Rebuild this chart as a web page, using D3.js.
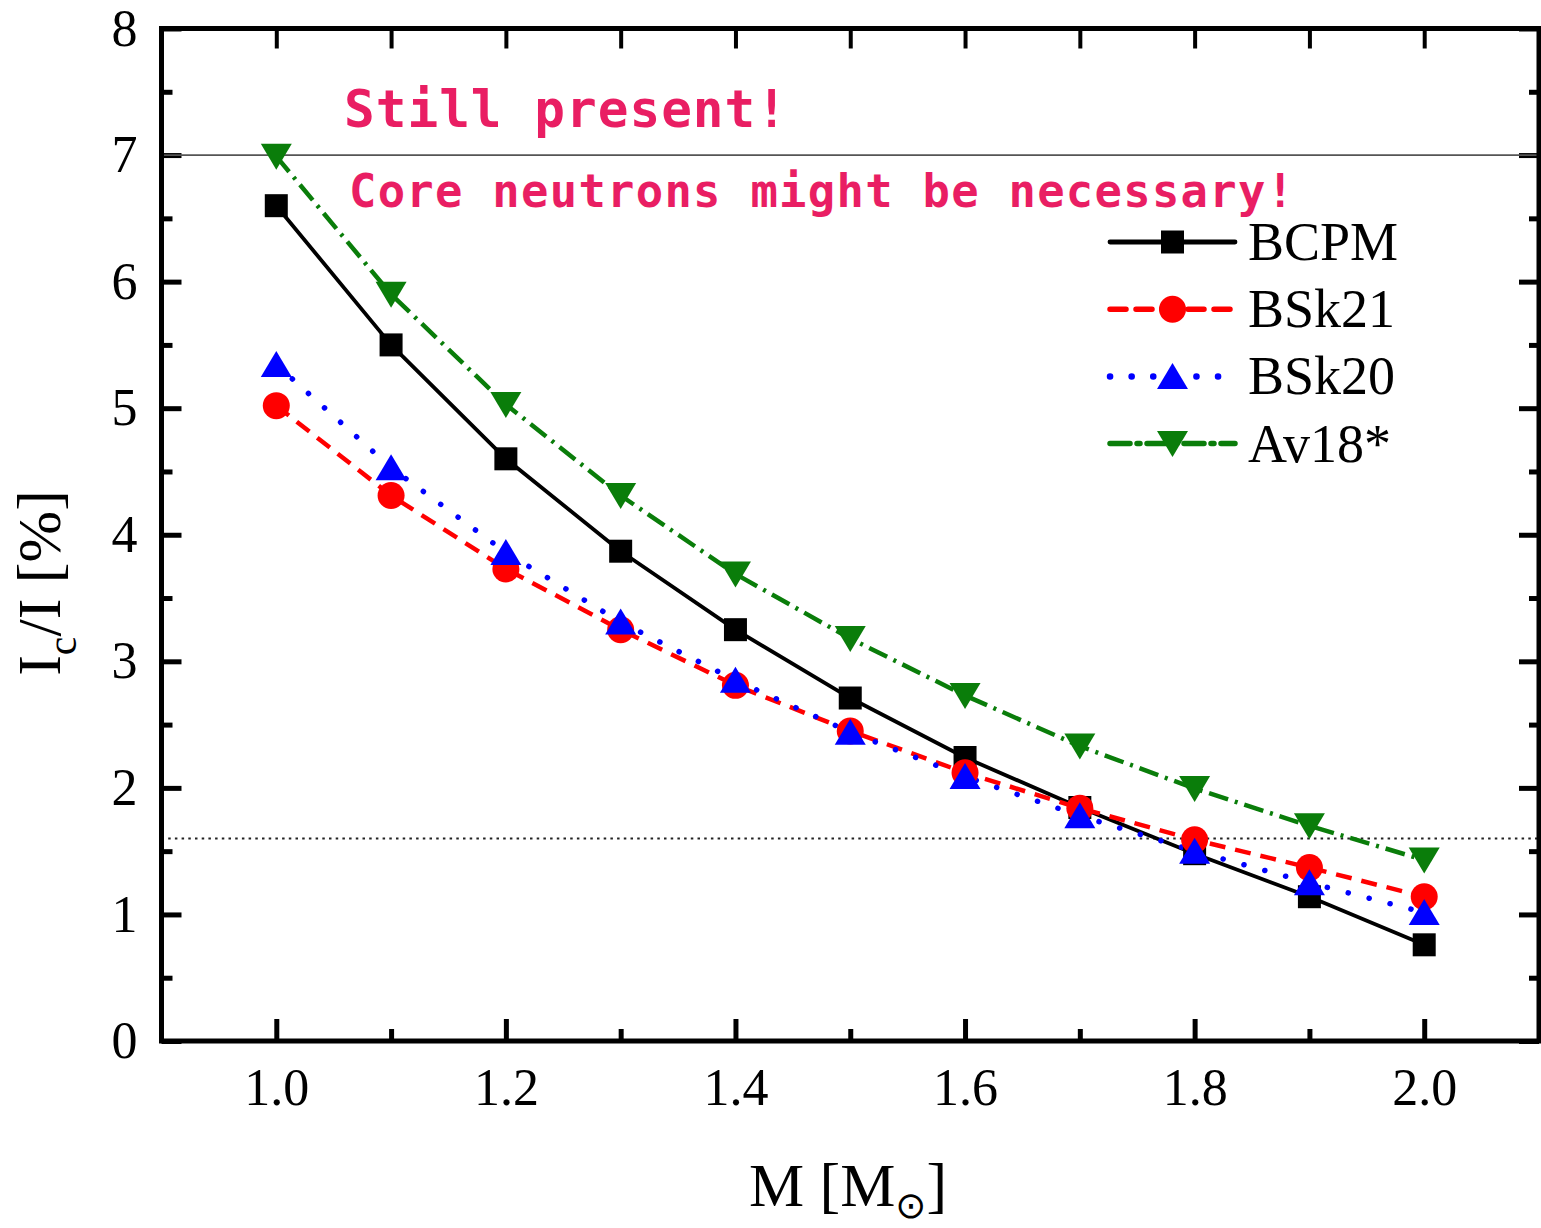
<!DOCTYPE html>
<html>
<head>
<meta charset="utf-8">
<script src="https://cdn.jsdelivr.net/npm/d3@7"></script>
<style>
  html, body { margin: 0; padding: 0; background: #fff; }
  svg { display: block; }
</style>
</head>
<body>
<div id="chart"></div>
<script>
// Crust moment-of-inertia fraction vs. neutron-star mass, four equations of state
const masses = [1.0, 1.1, 1.2, 1.3, 1.4, 1.5, 1.6, 1.7, 1.8, 1.9, 2.0];
const bcpm  = [6.60, 5.50, 4.60, 3.87, 3.25, 2.71, 2.24, 1.845, 1.48, 1.14, 0.76];
const bsk21 = [5.02, 4.31, 3.73, 3.25, 2.81, 2.45, 2.12, 1.84, 1.59, 1.37, 1.14];
const bsk20 = [5.345, 4.53, 3.86, 3.31, 2.85, 2.44, 2.09, 1.78, 1.50, 1.25, 1.015];
const av18  = [6.99, 5.90, 5.03, 4.31, 3.69, 3.18, 2.73, 2.33, 1.995, 1.70, 1.43];
const seriesNames = ["BCPM", "BSk21", "BSk20", "Av18*"];

const xMajorTicks = [1.0, 1.2, 1.4, 1.6, 1.8, 2.0];
const xMinorTicks = [1.1, 1.3, 1.5, 1.7, 1.9];
const yMajorTicks = [0, 1, 2, 3, 4, 5, 6, 7, 8];
const yMinorTicks = [0.5, 1.5, 2.5, 3.5, 4.5, 5.5, 6.5, 7.5];

const glitchLevel = 7;     // solid reference line
const crustLevel = 1.6;    // dotted reference line
const notes = ["Still present!", "Core neutrons might be necessary!"];

const W = 1541, H = 1228;
const svg = d3.select("#chart").append("svg")
  .attr("width", W).attr("height", H)
  .attr("viewBox", `0 0 ${W} ${H}`);
svg.append("rect").attr("width", W).attr("height", H).attr("fill", "#fff");

const x = d3.scaleLinear().domain([0.9, 2.1]).range([161.5, 1539]);
const y = d3.scaleLinear().domain([0, 8]).range([1041, 28.5]);

const serif = "'Liberation Serif', 'Times New Roman', serif";

// ---- axes (ticks point inward on all four sides) ----
function styleAxis(g, width) {
  g.select(".domain").remove();
  g.selectAll(".tick line").attr("stroke", "#000").attr("stroke-width", width);
}
const x0 = y.range()[0], yTop = y.range()[1];
const xl = x.range()[0], xr = x.range()[1];

svg.append("g").attr("transform", `translate(0,${x0})`)
  .call(d3.axisBottom(x).tickValues(xMajorTicks).tickSize(-22).tickPadding(27).tickFormat(d3.format(".1f")))
  .call(g => styleAxis(g, 5))
  .call(g => g.selectAll("text").attr("font-family", serif).attr("font-size", 52).attr("fill", "#000"));
svg.append("g").attr("transform", `translate(0,${x0})`)
  .call(d3.axisBottom(x).tickValues(xMinorTicks).tickSize(-12).tickFormat(""))
  .call(g => styleAxis(g, 5));
svg.append("g").attr("transform", `translate(0,${yTop})`)
  .call(d3.axisTop(x).tickValues(xMajorTicks).tickSize(-20).tickFormat(""))
  .call(g => styleAxis(g, 4));
svg.append("g").attr("transform", `translate(0,${yTop})`)
  .call(d3.axisTop(x).tickValues(xMinorTicks).tickSize(-20).tickFormat(""))
  .call(g => styleAxis(g, 4));

svg.append("g").attr("transform", `translate(${xl},0)`)
  .call(d3.axisLeft(y).tickValues(yMajorTicks).tickSize(-20).tickPadding(24).tickFormat(d3.format("d")))
  .call(g => styleAxis(g, 5))
  .call(g => g.selectAll("text").attr("font-family", serif).attr("font-size", 52).attr("fill", "#000"));
svg.append("g").attr("transform", `translate(${xl},0)`)
  .call(d3.axisLeft(y).tickValues(yMinorTicks).tickSize(-11).tickFormat(""))
  .call(g => styleAxis(g, 5));
svg.append("g").attr("transform", `translate(${xr},0)`)
  .call(d3.axisRight(y).tickValues(yMajorTicks).tickSize(-20).tickFormat(""))
  .call(g => styleAxis(g, 5));
svg.append("g").attr("transform", `translate(${xr},0)`)
  .call(d3.axisRight(y).tickValues(yMinorTicks).tickSize(-10).tickFormat(""))
  .call(g => styleAxis(g, 5));

// ---- reference levels ----
svg.append("line")
  .attr("x1", xl).attr("x2", xr).attr("y1", y(glitchLevel)).attr("y2", y(glitchLevel))
  .attr("stroke", "#555").attr("stroke-width", 1.8);
svg.append("line")
  .attr("x1", xl).attr("x2", xr).attr("y1", y(crustLevel)).attr("y2", y(crustLevel))
  .attr("stroke", "#222").attr("stroke-width", 1.9).attr("stroke-dasharray", "2.5,4.2");

// ---- series ----
const series = [
  { name: seriesNames[0], values: bcpm,  color: "#000000", width: 3.8, dash: null,          cap: "round", marker: "square" },
  { name: seriesNames[3], values: av18,  color: "#0a7d0a", width: 4.5, dash: "20,7,3,7",    cap: "butt",  marker: "down" },
  { name: seriesNames[1], values: bsk21, color: "#ff0000", width: 4.5, dash: "16,10",       cap: "butt",  marker: "circle" },
  { name: seriesNames[2], values: bsk20, color: "#0000ff", width: 5.5, dash: "0.1,21.5",    cap: "round", marker: "up" },
];

function markerPath(type) {
  if (type === "square") return "M-11.5,-11.5H11.5V11.5H-11.5Z";
  if (type === "up") return "M0,-13.5L15.5,12.5H-15.5Z";
  if (type === "down") return "M0,13.5L15.5,-12.5H-15.5Z";
  return d3.symbol(d3.symbolCircle, Math.PI * 13.5 * 13.5)();
}

const line = d3.line().x(d => x(d[0])).y(d => y(d[1]));

series.forEach(s => {
  const pts = masses.map((m, i) => [m, s.values[i]]);
  svg.append("path")
    .attr("d", line(pts))
    .attr("fill", "none")
    .attr("stroke", s.color)
    .attr("stroke-width", s.width)
    .attr("stroke-linecap", s.cap)
    .attr("stroke-linejoin", "round")
    .attr("stroke-dasharray", s.dash);
});
// markers: BCPM below, then BSk21, BSk20 on top; Av18* separate
const markerOrder = [series[0], series[1], series[2], series[3]];
markerOrder.forEach(s => {
  svg.append("g").selectAll("path")
    .data(masses.map((m, i) => [m, s.values[i]]))
    .join("path")
    .attr("transform", d => `translate(${x(d[0])},${y(d[1])})`)
    .attr("d", markerPath(s.marker))
    .attr("fill", s.color);
});

// ---- frame ----
svg.append("rect")
  .attr("x", xl).attr("y", yTop).attr("width", xr - xl).attr("height", x0 - yTop)
  .attr("fill", "none").attr("stroke", "#000").attr("stroke-width", 5);

// ---- legend ----
const legendItems = [series[0], series[2], series[3], series[1]];
const legendRow0 = 242, legendStep = 67.2;
const lx0 = 1110, lx1 = 1235, lmid = 1172.5;
legendItems.forEach((s, i) => {
  const cy = legendRow0 + i * legendStep;
  const g = svg.append("g");
  g.append("line")
    .attr("x1", lx0).attr("x2", lx1).attr("y1", cy).attr("y2", cy)
    .attr("stroke", s.color).attr("stroke-width", s.width + 1)
    .attr("stroke-linecap", s.cap === "butt" ? "round" : s.cap)
    .attr("stroke-dasharray", s.dash);
  g.append("path")
    .attr("transform", `translate(${lmid},${cy})`)
    .attr("d", markerPath(s.marker))
    .attr("fill", s.color);
  g.append("text")
    .attr("x", 1248).attr("y", cy + 18)
    .attr("font-family", serif).attr("font-size", 54).attr("fill", "#000")
    .text(s.name);
});

// ---- axis titles ----
const xTitle = svg.append("text")
  .attr("x", 848).attr("y", 1206)
  .attr("text-anchor", "middle")
  .attr("font-family", serif).attr("font-size", 62).attr("fill", "#000");
xTitle.append("tspan").text("M [M");
xTitle.append("tspan").attr("dy", 12).attr("font-size", 37)
  .attr("font-family", "'DejaVu Sans', sans-serif").text("\u2299");
xTitle.append("tspan").attr("dy", -12).text("]");

const yTitle = svg.append("text")
  .attr("transform", "translate(60,583) rotate(-90)")
  .attr("text-anchor", "middle")
  .attr("font-family", serif).attr("font-size", 62).attr("fill", "#000");
yTitle.append("tspan").text("I");
yTitle.append("tspan").attr("dy", 16).attr("font-size", 42).text("c");
yTitle.append("tspan").attr("dy", -16).text("/I [%]");

// ---- annotations ----
const mono = "'DejaVu Sans Mono', monospace";
svg.append("text")
  .attr("x", 344).attr("y", 127)
  .attr("font-family", mono).attr("font-weight", "bold").attr("font-size", 51)
  .attr("fill", "#e91e63")
  .attr("textLength", 443).attr("lengthAdjust", "spacing")
  .text(notes[0]);
svg.append("text")
  .attr("x", 349).attr("y", 207)
  .attr("font-family", mono).attr("font-weight", "bold").attr("font-size", 45.5)
  .attr("fill", "#e91e63")
  .attr("textLength", 945).attr("lengthAdjust", "spacing")
  .text(notes[1]);
</script>
</body>
</html>
